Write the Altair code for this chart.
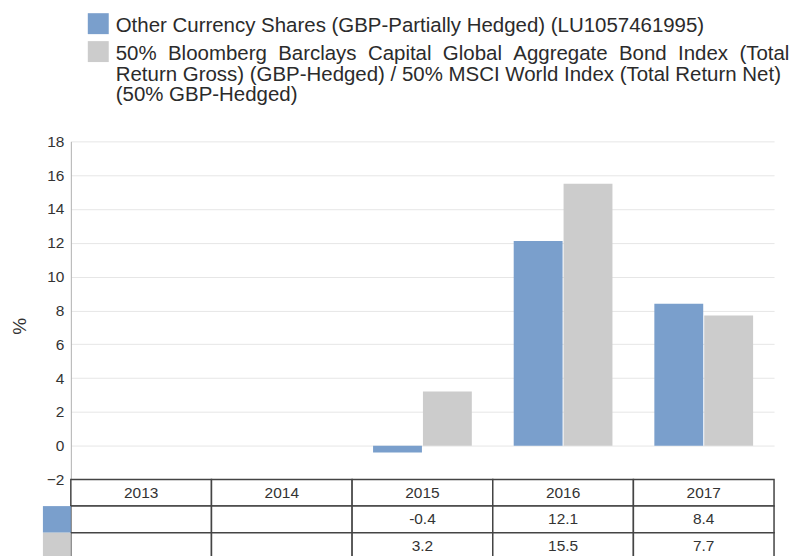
import altair as alt
import pandas as pd

years = ["2013", "2014", "2015", "2016", "2017"]
series_keys = ["fund", "bench"]
GAP = " \u00a0"  # widened word gap to imitate the justified line
legend_labels = [
    "Other Currency Shares (GBP-Partially Hedged) (LU1057461995)",
    GAP.join("50% Bloomberg Barclays Capital Global Aggregate Bond Index (Total".split(" ")) + "\n"
    "Return Gross) (GBP-Hedged) / 50% MSCI World Index (Total Return Net)\n"
    "(50% GBP-Hedged)",
]
fund_values = [None, None, -0.4, 12.1, 8.4]
bench_values = [None, None, 3.2, 15.5, 7.7]
colors = ["#7a9fcc", "#cccccc"]
y_ticks = [-2, 0, 2, 4, 6, 8, 10, 12, 14, 16, 18]

FONT = "Liberation Sans"
W = 705

# ---- data tables built from the lists ----
bar_rows = []
for key, vals in zip(series_keys, [fund_values, bench_values]):
    for y, v in zip(years, vals):
        if v is not None:
            bar_rows.append({"year": y, "series": key, "value": v})
bars_df = pd.DataFrame(bar_rows)

table_rows = []
for y in years:
    table_rows.append({"year": y, "row": "year", "label": y})
for key, vals in zip(series_keys, [fund_values, bench_values]):
    for y, v in zip(years, vals):
        table_rows.append({"year": y, "row": key, "label": "" if v is None else f"{v:.1f}"})
table_df = pd.DataFrame(table_rows)
swatch_df = pd.DataFrame({"row": series_keys})
legend_df = pd.DataFrame({"key": series_keys, "label": legend_labels})

color_scale = alt.Scale(domain=series_keys, range=colors)
x_scale = alt.Scale(domain=years, paddingInner=0, paddingOuter=0)

# ---- legend panel ----
leg_y = alt.Y("key:N", scale=alt.Scale(type="point", domain=series_keys, range=[23, 51], padding=0), axis=None)
leg_swatch = alt.Chart(legend_df).mark_square(size=441, opacity=1, yOffset=-8).encode(
    x=alt.value(27.5), y=leg_y,
    color=alt.Color("key:N", scale=color_scale, legend=None),
)
leg_text = alt.Chart(legend_df).mark_text(
    align="left", baseline="alphabetic", fontSize=20.5, font=FONT,
    lineBreak="\n", lineHeight=21, color="#2b2b2b",
).encode(x=alt.value(45), y=leg_y, text="label:N")
legend_panel = alt.layer(leg_swatch, leg_text).properties(width=W, height=133)

# ---- bar panel ----
bar_panel = alt.Chart(bars_df).mark_bar().encode(
    x=alt.X("year:O", scale=x_scale, axis=None),
    xOffset=alt.XOffset("series:N", scale=alt.Scale(domain=series_keys, paddingInner=0.02, paddingOuter=0.42)),
    y=alt.Y("value:Q", scale=alt.Scale(domain=[-2, 18], nice=False, zero=False),
            axis=alt.Axis(values=y_ticks, title="%", ticks=False, labelPadding=7,
                          labelFontSize=15.5, labelFont=FONT, labelColor="#333333",
                          domainColor="#b0b0b0", gridColor="#e6e6e6",
                          titleFont=FONT, titleFontSize=19, titleFontWeight="normal",
                          titleColor="#333333", titleAngle=270, titleX=-51.5, titleY=185,
                          titleBaseline="middle", titleAlign="center")),
    color=alt.Color("series:N", scale=color_scale, legend=None),
).properties(width=W, height=339)

# ---- table panel ----
row_scale = alt.Scale(domain=["year"] + series_keys, paddingInner=0, paddingOuter=0)
cells = alt.Chart(table_df).mark_rect(fill="white", stroke="#444444", strokeWidth=1.5).encode(
    x=alt.X("year:O", scale=x_scale, axis=None),
    y=alt.Y("row:N", scale=row_scale, axis=None),
)
cell_text = alt.Chart(table_df).mark_text(fontSize=15.5, font=FONT, color="#333333", baseline="middle").encode(
    x=alt.X("year:O", scale=x_scale, axis=None),
    y=alt.Y("row:N", scale=row_scale, axis=None),
    text="label:N",
)
swatches = alt.Chart(swatch_df).mark_rect().encode(
    x=alt.value(-28), x2=alt.value(0),
    y=alt.Y("row:N", scale=row_scale, axis=None),
    color=alt.Color("row:N", scale=color_scale, legend=None),
)
table_panel = alt.layer(cells, swatches, cell_text).properties(width=W, height=80)

chart = alt.vconcat(
    legend_panel, bar_panel, table_panel, spacing=0, bounds="flush",
    padding={"left": 2, "top": 0, "right": 0, "bottom": 0},
).configure_view(stroke=None)

chart.save("out.html", embed_options={"renderer": "svg", "actions": False})
